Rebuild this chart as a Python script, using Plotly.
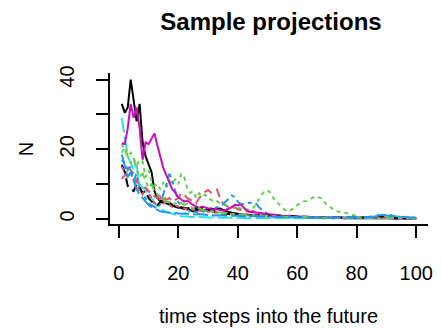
import plotly.graph_objects as go

# ---- data ----
time_steps = list(range(1, 101))

black_solid = [33, 30.5, 32, 40, 34, 28, 33, 22, 18, 16,
               13.5, 8, 6, 5, 5.5, 4.5, 4.2, 4, 3.6, 3.2,
               3.2, 2.8, 3, 2.6, 2.2, 2.5, 2.8, 2.4, 2.6, 3,
               3, 2.8, 2.9, 3, 2.6, 2.2, 2, 1.8, 1.6, 1.5,
               1.4, 1.2, 1.3, 1.1, 1, 1.2, 1, 0.9, 0.8, 0.8,
               1, 0.8, 0.7, 0.9, 0.7, 0.6, 0.6, 0.8, 0.6, 0.5,
               0.5, 0.6, 0.4, 0.5, 0.5, 0.4, 0.4, 0.5, 0.3, 0.4,
               0.3, 0.3, 0.4, 0.3, 0.3, 0.2, 0.3, 0.2, 0.2, 0.3,
               0.2, 0.2, 0.2, 0.1, 0.2, 0.2, 0.3, 0.6, 0.5, 0.2,
               0.2, 0.1, 0.1, 0.2, 0.1, 0.1, 0.1, 0.2, 0.1, 0.1]

red_dashed = [11.5, 12.5, 15, 14, 13, 11, 9.5, 8.5, 9, 8,
              7.5, 6.5, 6, 7, 6.5, 5.5, 6, 5, 5.5, 6,
              7.4, 7, 6, 5.5, 5, 4.5, 6, 7, 7.8, 8.3,
              7.6, 8, 8.5, 6, 4.5, 3.8, 3.5, 3, 3.4, 2.8,
              2.5, 2.6, 2.2, 2, 2.3, 2, 1.8, 1.6, 1.4, 1.3,
              1.2, 1.1, 1.2, 1, 0.9, 1, 0.8, 0.9, 0.7, 0.8,
              0.7, 0.6, 0.7, 0.6, 0.5, 0.6, 0.5, 0.5, 0.4, 0.5,
              0.4, 0.4, 0.5, 0.3, 0.4, 0.3, 0.3, 0.4, 0.3, 0.3,
              0.3, 0.2, 0.3, 0.2, 0.3, 0.2, 0.2, 0.3, 0.2, 0.2,
              0.2, 0.3, 0.2, 0.2, 0.1, 0.2, 0.2, 0.1, 0.2, 0.2]

green_dotted = [21.5, 19.5, 18, 19, 17, 15.5, 17, 16.5, 12, 14,
                11, 9.5, 10, 8.5, 10.5, 9, 11, 10, 11.5, 10,
                13, 12, 9, 7.5, 8, 6, 7.4, 6.5, 7, 6,
                5.5, 5, 5.2, 4.5, 4.2, 4, 3.5, 3.6, 3, 3.3,
                3, 2.6, 2.8, 2.5, 3, 4, 5.5, 7, 7.8, 8.3,
                7.5, 6, 5, 4, 3.2, 2.5, 2.2, 2.6, 3.5, 4,
                4.6, 5, 5.2, 5.5, 6, 6.5, 6.3, 6, 5, 4,
                3.5, 2.8, 2.4, 2, 2.1, 1.8, 1.5, 1.3, 1, 0.8,
                0.6, 0.5, 0.7, 0.5, 0.9, 0.8, 0.5, 0.4, 0.6, 0.5,
                0.4, 0.3, 0.5, 0.4, 0.3, 0.3, 0.4, 0.3, 0.2, 0.3]

blue_dotdash = [17, 16, 14, 15, 11, 13, 9, 7, 6, 4.5,
                4, 3.5, 3, 4.5, 7, 10, 13, 11, 8, 5,
                3.5, 3, 2.5, 2.2, 2, 2.1, 1.9, 2, 2.2, 2.4,
                2.6, 3, 3.4, 3.8, 4.2, 5, 6, 6.8, 6.2, 5,
                4.2, 4.4, 4.6, 4.7, 4.5, 4.6, 3.5, 2.6, 2, 1.6,
                1.4, 1.2, 1.1, 1, 0.9, 1, 0.8, 0.7, 0.8, 0.7,
                0.6, 0.7, 0.6, 0.5, 0.6, 0.5, 0.5, 0.6, 0.5, 0.4,
                0.5, 0.4, 0.4, 0.5, 0.4, 0.4, 0.3, 0.4, 0.4, 0.3,
                0.4, 0.3, 0.4, 0.5, 0.6, 0.8, 1.1, 1.2, 1.2, 1.1,
                1.2, 1, 0.8, 0.6, 0.5, 0.4, 0.4, 0.3, 0.4, 0.3]

cyan_longdash = [29, 24, 18, 16, 14, 15.5, 10, 9, 8.5, 7,
                 6, 4.5, 4, 3, 2.5, 2, 1.8, 1.5, 1.2, 1,
                 0.8, 0.7, 0.8, 0.6, 0.7, 0.6, 0.6, 0.5, 0.6, 0.5,
                 0.4, 0.5, 0.4, 0.4, 0.3, 0.4, 0.3, 0.3, 0.4, 0.3,
                 0.3, 0.3, 0.2, 0.3, 0.3, 0.2, 0.3, 0.2, 0.2, 0.3,
                 0.2, 0.2, 0.2, 0.3, 0.2, 0.2, 0.2, 0.1, 0.2, 0.2,
                 0.2, 0.1, 0.2, 0.2, 0.1, 0.2, 0.1, 0.1, 0.2, 0.1,
                 0.1, 0.1, 0.2, 0.1, 0.1, 0.1, 0.1, 0.2, 0.1, 0.1,
                 0.1, 0.1, 0.1, 0.1, 0.2, 0.1, 0.1, 0.1, 0.1, 0.1,
                 0.1, 0.1, 0.1, 0.1, 0.1, 0.1, 0.1, 0.1, 0.1, 0.1]

magenta_solid = [21.7, 21.5, 26, 33, 29, 32, 26, 17, 22, 21.5,
                 23, 24.5, 21, 17.5, 14.5, 12.5, 10.5, 8.5, 7.5, 6.3,
                 5.6, 5, 5.3, 4.6, 4, 3.6, 3.2, 3.6, 3.4, 3,
                 2.8, 2.6, 2.8, 2.5, 2.4, 2.6, 2.9, 3.4, 4.1, 3.9,
                 4.2, 3.2, 2.4, 2.1, 2, 1.9, 1.7, 1.5, 1.4, 1.3,
                 1.2, 1.1, 1, 1.1, 0.9, 0.8, 0.9, 0.8, 0.7, 0.7,
                 0.6, 0.7, 0.6, 0.5, 0.6, 0.5, 0.5, 0.4, 0.5, 0.4,
                 0.4, 0.4, 0.3, 0.4, 0.3, 0.3, 0.4, 0.3, 0.3, 0.3,
                 0.2, 0.3, 0.2, 0.3, 0.2, 0.2, 0.3, 0.2, 0.2, 0.2,
                 0.2, 0.2, 0.1, 0.2, 0.2, 0.1, 0.2, 0.1, 0.2, 0.2]

black_dashed = [15.5, 13.5, 9.5, 8.5, 8, 10, 9, 7.5, 8, 6,
                5, 4.5, 4, 5, 4.6, 5.2, 4.8, 4, 3.6, 3.5,
                3.3, 3.1, 3, 3.2, 3, 3.1, 2.9, 3.1, 2.8, 2.5,
                2.2, 2, 1.8, 1.6, 1.5, 1.4, 1.3, 1.3, 1.2, 1.2,
                1.1, 1.1, 1, 1.1, 1, 1, 0.9, 1, 0.9, 1,
                0.9, 0.8, 0.8, 0.7, 0.8, 0.7, 0.7, 0.8, 0.8, 0.8,
                0.7, 0.6, 0.6, 0.5, 0.6, 0.5, 0.5, 0.4, 0.5, 0.4,
                0.4, 0.4, 0.3, 0.4, 0.3, 0.3, 0.3, 0.4, 0.3, 0.3,
                0.3, 0.3, 0.2, 0.3, 0.3, 0.4, 0.5, 0.6, 0.6, 0.5,
                0.4, 0.3, 0.3, 0.2, 0.3, 0.2, 0.2, 0.2, 0.2, 0.2]

red_dotted = [15, 13.5, 12, 13, 11.5, 10, 8, 7, 9, 7.5,
              6, 4.5, 5, 6, 4.5, 5, 4, 3.5, 4, 3.5,
              3.2, 3, 2.8, 3, 2.6, 2.5, 2.4, 2.2, 2.3, 2,
              1.9, 1.8, 1.9, 1.7, 1.6, 1.5, 1.5, 1.4, 1.3, 1.3,
              1.2, 1.2, 1.1, 1, 1.1, 1, 0.9, 1, 0.9, 0.8,
              0.8, 0.7, 0.8, 0.7, 0.6, 0.7, 0.6, 0.6, 0.5, 0.6,
              0.5, 0.5, 0.4, 0.5, 0.4, 0.4, 0.5, 0.4, 0.3, 0.4,
              0.3, 0.4, 0.3, 0.3, 0.3, 0.2, 0.3, 0.3, 0.2, 0.3,
              0.2, 0.2, 0.3, 0.2, 0.2, 0.2, 0.3, 0.2, 0.2, 0.2,
              0.2, 0.1, 0.2, 0.2, 0.1, 0.2, 0.1, 0.2, 0.2, 0.1]

green_dotdash = [19, 20.5, 18, 16, 17.5, 14, 12, 13, 11, 9,
                 10, 8, 7, 6, 5.5, 5, 4.8, 4, 4.5, 5,
                 4.6, 4, 4.4, 3.6, 3, 3.4, 3, 2.6, 2.4, 2.5,
                 2.2, 2, 2.1, 1.8, 1.6, 1.7, 1.5, 1.4, 1.5, 1.3,
                 1.2, 1.3, 1.1, 1, 1.1, 1, 0.9, 0.9, 0.8, 0.9,
                 0.8, 0.7, 0.8, 0.7, 0.7, 0.6, 0.7, 0.6, 0.5, 0.6,
                 0.5, 0.5, 0.6, 0.5, 0.4, 0.5, 0.4, 0.4, 0.5, 0.4,
                 0.4, 0.3, 0.4, 0.3, 0.4, 0.3, 0.3, 0.4, 0.3, 0.3,
                 0.3, 0.3, 0.2, 0.3, 0.3, 0.2, 0.3, 0.2, 0.3, 0.2,
                 0.2, 0.3, 0.2, 0.2, 0.2, 0.3, 0.2, 0.2, 0.2, 0.2]

blue_longdash = [18.5, 15, 12, 13.5, 11, 8.5, 7, 6, 5, 4,
                 3.5, 3, 2.6, 2.2, 2, 1.9, 2, 1.8, 1.7, 1.6,
                 1.5, 1.6, 1.5, 1.4, 1.5, 1.3, 1.4, 1.3, 1.2, 1.2,
                 1.1, 1, 1.1, 1, 0.9, 1, 0.9, 0.9, 1, 0.9,
                 0.8, 0.9, 0.8, 0.8, 0.9, 0.8, 0.7, 0.8, 0.7, 0.7,
                 0.6, 0.7, 0.6, 0.6, 0.5, 0.6, 0.5, 0.6, 0.5, 0.5,
                 0.5, 0.4, 0.5, 0.4, 0.5, 0.4, 0.4, 0.5, 0.4, 0.4,
                 0.4, 0.5, 0.4, 0.4, 0.3, 0.4, 0.4, 0.3, 0.4, 0.4,
                 0.5, 0.4, 0.5, 0.6, 0.5, 0.7, 0.9, 1, 1.1, 1,
                 0.9, 0.8, 0.7, 0.6, 0.5, 0.5, 0.4, 0.4, 0.5, 0.4]

series_names = ["sim 1", "sim 2", "sim 3", "sim 4", "sim 5",
                "sim 6", "sim 7", "sim 8", "sim 9", "sim 10"]
series_values = [black_solid, red_dashed, green_dotted, blue_dotdash, cyan_longdash,
                 magenta_solid, black_dashed, red_dotted, green_dotdash, blue_longdash]

x_ticks = [0, 20, 40, 60, 80, 100]
y_ticks = [0, 10, 20, 30, 40]
y_tick_labels = ["0", "", "20", "", "40"]

title_text = "Sample projections"
x_title = "time steps into the future"
y_title = "N"

# ---- styles ----
colors = ["#000000", "#DF536B", "#61D04F", "#2297E6", "#28E2E5", "#CD0BBC"]
dashes = ["solid", "9px,5px", "4px,4px", "4px,4px,9px,4px", "15px,4px"]

FONT = "Liberation Sans, Arial, Helvetica, sans-serif"

fig = go.Figure()
for i, (name, vals) in enumerate(zip(series_names, series_values)):
    fig.add_trace(go.Scatter(
        x=time_steps, y=vals, mode="lines", name=name,
        line=dict(color=colors[i % 6], dash=dashes[i % 5], width=2),
        showlegend=False,
    ))

W, H = 441, 328
L, R, T, B = 110, 8, 73, 104
pw, ph = W - L - R, H - T - B

fig.update_layout(
    width=W, height=H,
    margin=dict(l=L, r=R, t=T, b=B, pad=0),
    paper_bgcolor="white", plot_bgcolor="white",
    font=dict(family=FONT, size=20, color="black"),
    title=dict(text=title_text, x=271 / W, xanchor="center",
               y=1 - 22 / H, yanchor="middle", yref="container",
               font=dict(family=FONT, size=24, color="black", weight="bold")),
    xaxis=dict(range=[-2.96, 103.96], tickvals=x_ticks, ticks="outside", ticklen=12,
               tickwidth=2, tickcolor="black", showline=True, linewidth=2, linecolor="black",
               showgrid=False, zeroline=False, ticklabelstandoff=18,
               tickfont=dict(family=FONT, size=20, color="black")),
    yaxis=dict(range=[-1.43, 41.87], tickvals=y_ticks, ticktext=y_tick_labels,
               ticks="outside", ticklen=12, tickwidth=2, tickcolor="black",
               showline=True, linewidth=2, linecolor="black", tickangle=-90,
               showgrid=False, zeroline=False, ticklabelstandoff=14,
               tickfont=dict(family=FONT, size=20, color="black")),
    annotations=[
        dict(text=x_title, xref="paper", yref="paper", x=(271 - L) / pw, y=(224 - 316) / ph,
             xanchor="center", yanchor="middle", showarrow=False,
             font=dict(family=FONT, size=20, color="black")),
        dict(text=y_title, xref="paper", yref="paper", x=(25 - L) / pw, y=(224 - 149) / ph,
             xanchor="center", yanchor="middle", showarrow=False, textangle=-90,
             font=dict(family=FONT, size=20, color="black")),
    ],
)

fig.write_html("out.html")
